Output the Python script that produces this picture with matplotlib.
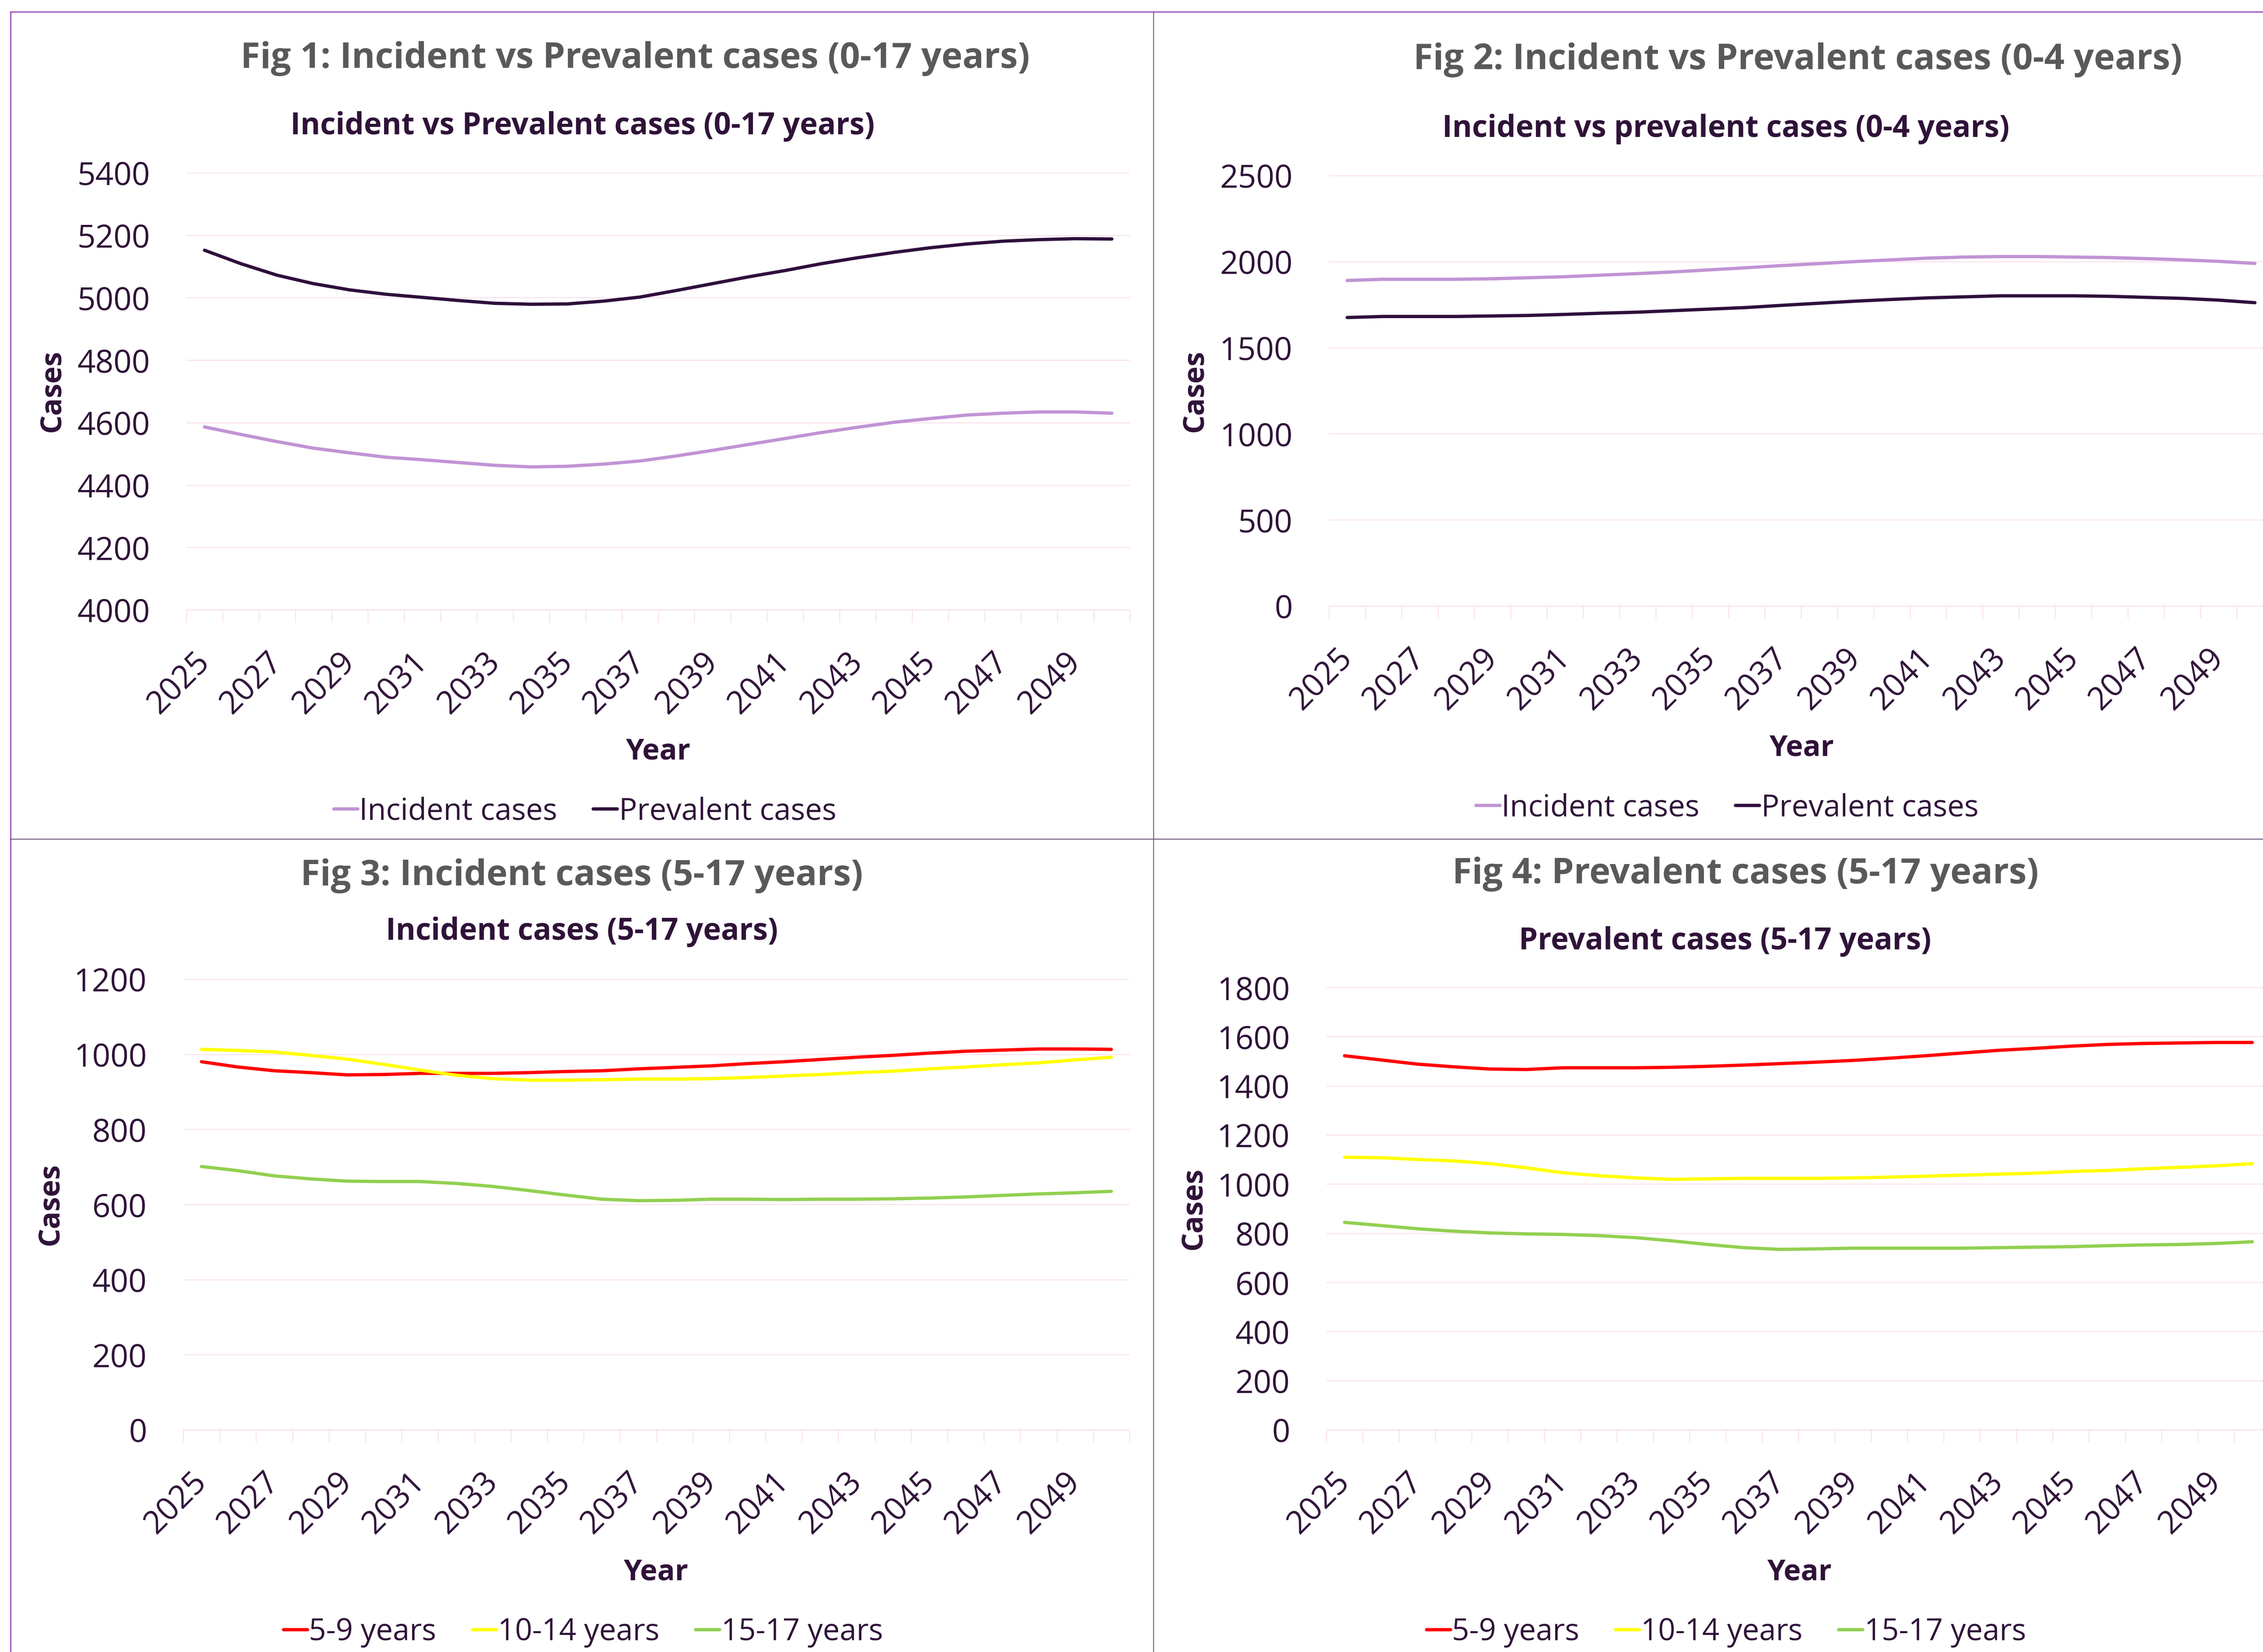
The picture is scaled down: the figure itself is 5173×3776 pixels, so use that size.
import numpy as np
from matplotlib import pyplot as plt
from matplotlib.lines import Line2D

W, H = 5173, 3776
DPI = 300

years = list(range(2025, 2051))

# Fig 1: 0-17 years
incident_0_17 = [4586, 4562, 4539, 4518, 4503, 4489, 4481, 4472, 4463, 4458, 4460, 4467, 4477,
                 4493, 4511, 4530, 4549, 4568, 4585, 4601, 4613, 4624, 4630, 4634, 4634, 4630]
prevalent_0_17 = [5152, 5109, 5072, 5045, 5025, 5011, 5001, 4991, 4982, 4979, 4980, 4989, 5002,
                  5023, 5045, 5067, 5087, 5109, 5128, 5145, 5160, 5172, 5181, 5186, 5189, 5188]

# Fig 2: 0-4 years
incident_0_4 = [1890, 1897, 1897, 1897, 1900, 1906, 1912, 1921, 1930, 1940, 1952, 1964, 1977,
                1988, 2000, 2010, 2020, 2026, 2029, 2029, 2026, 2023, 2017, 2010, 2001, 1989]
prevalent_0_4 = [1675, 1681, 1681, 1681, 1684, 1687, 1693, 1700, 1706, 1715, 1724, 1733, 1746,
                 1758, 1770, 1780, 1789, 1795, 1801, 1801, 1801, 1798, 1792, 1786, 1776, 1761]

# Fig 3: incident cases by age band
inc_5_9 = [980, 966, 956, 951, 945, 946, 949, 949, 949, 951, 954, 956, 961,
           965, 969, 975, 980, 986, 992, 997, 1003, 1008, 1011, 1014, 1014, 1013]
inc_10_14 = [1013, 1010, 1006, 997, 987, 973, 958, 944, 935, 931, 931, 932, 934,
             934, 935, 938, 942, 946, 951, 955, 961, 966, 972, 977, 985, 992]
inc_15_17 = [701, 690, 676, 668, 662, 661, 661, 656, 648, 637, 625, 614, 610,
             611, 614, 614, 613, 614, 614, 615, 617, 620, 624, 628, 631, 635]

# Fig 4: prevalent cases by age band
prev_5_9 = [1522, 1505, 1488, 1477, 1468, 1466, 1473, 1473, 1473, 1475, 1479, 1484, 1490,
            1496, 1503, 1512, 1522, 1533, 1544, 1552, 1561, 1568, 1572, 1574, 1576, 1576]
prev_10_14 = [1109, 1107, 1100, 1094, 1083, 1066, 1046, 1034, 1025, 1019, 1021, 1023, 1023,
              1023, 1025, 1028, 1032, 1036, 1040, 1044, 1051, 1055, 1062, 1068, 1074, 1083]
prev_15_17 = [844, 831, 818, 808, 801, 797, 795, 790, 782, 769, 754, 741, 734,
              736, 739, 739, 739, 739, 741, 743, 745, 749, 752, 754, 758, 765]

TEXT = "#2F1238"
TITLE = "#595959"
GRID = "#F9D3E3"
LIGHT_PURPLE = "#C193D4"
DARK_PURPLE = "#2E0F3C"

plt.rcParams["font.family"] = ["Open Sans", "DejaVu Sans"]


def fx(x):
    return x / W


def fy(y):
    return 1 - y / H


def draw_panel(fig, box, series, ylim, ystep, title, subtitle, pos):
    left, top, right, bottom = box
    ax = fig.add_axes([fx(left), fy(bottom), (right - left) / W, (bottom - top) / H])
    x = np.arange(len(years))
    for label, values, colour in series:
        ax.plot(x, values, color=colour, lw=1.8, label=label, solid_capstyle="round")

    ax.set_xlim(-0.5, len(years) - 0.5)
    ax.set_ylim(*ylim)
    ax.set_yticks(np.arange(ylim[0], ylim[1] + 1, ystep))
    ax.set_xticks(np.arange(-0.5, len(years), 1), labels=[])
    ax.set_xticks(x[::2], labels=[str(y) for y in years[::2]], minor=True,
                  rotation=45, ha="right", va="center", rotation_mode="anchor")
    ax.tick_params(axis="x", which="major", length=6.7, width=0.35, color=GRID)
    ax.tick_params(axis="x", which="minor", length=0, pad=26, labelsize=17.5, labelcolor=TEXT)
    ax.tick_params(axis="y", length=0, pad=20, labelsize=17.5, labelcolor=TEXT)
    ax.grid(axis="y", color=GRID, lw=0.35)
    ax.set_axisbelow(True)
    for side in ["left", "top", "right"]:
        ax.spines[side].set_visible(False)
    ax.spines["bottom"].set_color(GRID)
    ax.spines["bottom"].set_linewidth(0.35)

    fig.text(fx(pos["title"][0]), fy(pos["title"][1]), title, ha="center", va="baseline",
             fontsize=19.5, fontweight="bold", color=TITLE)
    fig.text(fx(pos["sub"][0]), fy(pos["sub"][1]), subtitle, ha="center", va="baseline",
             fontsize=16.5, fontweight="bold", color=TEXT)
    fig.text(fx(pos["cases"][0]), fy(pos["cases"][1]), "Cases", rotation=90, ha="center",
             va="center", fontsize=16, fontweight="bold", color=TEXT)
    fig.text(fx(pos["year"][0]), fy(pos["year"][1]), "Year", ha="center", va="baseline",
             fontsize=16, fontweight="bold", color=TEXT)
    ax.legend(loc="center", bbox_to_anchor=(fx(pos["legend"][0]), fy(pos["legend"][1] + 7)),
              bbox_transform=fig.transFigure, ncol=len(series), frameon=False, fontsize=16.5,
              handlelength=0.8, handletextpad=0.05, columnspacing=1.2, labelcolor=TEXT)
    return ax


fig = plt.figure(figsize=(W / DPI, H / DPI), dpi=DPI)

draw_panel(fig, (426, 395, 2583, 1394),
           [("Incident cases", incident_0_17, LIGHT_PURPLE),
            ("Prevalent cases", prevalent_0_17, DARK_PURPLE)],
           (4000, 5400), 200,
           "Fig 1: Incident vs Prevalent cases (0-17 years)",
           "Incident vs Prevalent cases (0-17 years)",
           {"title": (1452, 155), "sub": (1332, 307), "cases": (119, 894),
            "year": (1504, 1736), "legend": (1337, 1848)})

draw_panel(fig, (3038, 401, 5196, 1385),
           [("Incident cases", incident_0_4, LIGHT_PURPLE),
            ("Prevalent cases", prevalent_0_4, DARK_PURPLE)],
           (0, 2500), 500,
           "Fig 2: Incident vs Prevalent cases (0-4 years)",
           "Incident vs prevalent cases (0-4 years)",
           {"title": (4110, 158), "sub": (3945, 313), "cases": (2731, 894),
            "year": (4118, 1727), "legend": (3948, 1840)})

draw_panel(fig, (419, 2238, 2582, 3268),
           [("5-9 years", inc_5_9, "#FF0000"),
            ("10-14 years", inc_10_14, "#FFFF00"),
            ("15-17 years", inc_15_17, "#92D050")],
           (0, 1200), 200,
           "Fig 3: Incident cases (5-17 years)",
           "Incident cases (5-17 years)",
           {"title": (1330, 2023), "sub": (1330, 2148), "cases": (115, 2753),
            "year": (1499, 3611), "legend": (1333, 3724)})

draw_panel(fig, (3032, 2257, 5190, 3268),
           [("5-9 years", prev_5_9, "#FF0000"),
            ("10-14 years", prev_10_14, "#FFFF00"),
            ("15-17 years", prev_15_17, "#92D050")],
           (0, 1800), 200,
           "Fig 4: Prevalent cases (5-17 years)",
           "Prevalent cases (5-17 years)",
           {"title": (3990, 2019), "sub": (3943, 2170), "cases": (2728, 2763),
            "year": (4113, 3611), "legend": (3946, 3724)})

# frame lines between the four charts
fig.add_artist(Line2D([fx(24), fx(W)], [fy(27), fy(27)], color="#A862C4", lw=0.8))
fig.add_artist(Line2D([fx(24), fx(24)], [fy(27), fy(H)], color="#A862C4", lw=0.8))
fig.add_artist(Line2D([fx(2637), fx(2637)], [fy(27), fy(H)], color="#75637F", lw=0.5))
fig.add_artist(Line2D([fx(24), fx(W)], [fy(1918), fy(1918)], color="#6B577A", lw=0.5))

fig.savefig("out.png", dpi=DPI)
